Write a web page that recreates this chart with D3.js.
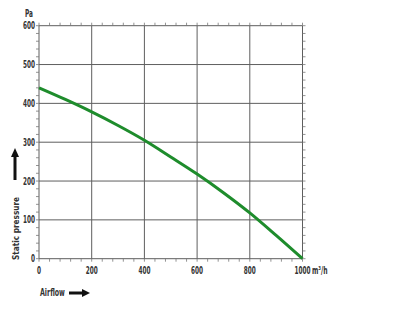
<!DOCTYPE html>
<html>
<head>
<meta charset="utf-8">
<script src="https://cdn.jsdelivr.net/npm/d3@7"></script>
<style>
  body { margin: 0; background: #fff; }
  text { font-family: "DejaVu Sans Condensed", "Liberation Sans", sans-serif; fill: #333; font-weight: bold; }
</style>
</head>
<body>
<svg id="chart"></svg>
<script>
// airflow (m3/h) vs static pressure (Pa)
var airflow = [0, 100, 200, 300, 400, 500, 600, 700, 800, 900, 1000]
var pressure = [440, 410, 378, 343, 305, 262, 218, 170, 118, 60, 0]
var xTicks = [0, 200, 400, 600, 800, 1000]
var yTicks = [0, 100, 200, 300, 400, 500, 600]

var width = 400
var height = 318
var narrow = 0.64 // the print uses a very condensed face

var svg = d3.select('#chart').attr('width', width).attr('height', height)

var x = d3.scaleLinear().domain([0, 1000]).range([39, 302.5])
var y = d3.scaleLinear().domain([0, 600]).range([258.7, 25.7])

var grid = svg.append('g').attr('stroke', '#5e5e5e').attr('stroke-width', 1)

grid.selectAll('.gx')
  .data(xTicks)
  .join('line')
  .attr('class', 'gx')
  .attr('x1', (d) => x(d)).attr('x2', (d) => x(d))
  .attr('y1', y(0)).attr('y2', y(600))

grid.selectAll('.gy')
  .data(yTicks)
  .join('line')
  .attr('class', 'gy')
  .attr('y1', (d) => y(d)).attr('y2', (d) => y(d))
  .attr('x1', x(0)).attr('x2', x(1000))

// minor ticks on the frame, pointing outward
var minorX = d3.range(0, 1001, 40)
var minorY = d3.range(0, 601, 20)
var ticks = svg.append('g').attr('stroke', '#777').attr('stroke-width', 0.8)

ticks.selectAll('.tt').data(minorX).join('line').attr('class', 'tt')
  .attr('x1', (d) => x(d)).attr('x2', (d) => x(d))
  .attr('y1', y(600)).attr('y2', y(600) - 3)
ticks.selectAll('.tb').data(minorX).join('line').attr('class', 'tb')
  .attr('x1', (d) => x(d)).attr('x2', (d) => x(d))
  .attr('y1', y(0)).attr('y2', y(0) + 3)
ticks.selectAll('.tl').data(minorY).join('line').attr('class', 'tl')
  .attr('y1', (d) => y(d)).attr('y2', (d) => y(d))
  .attr('x1', x(0)).attr('x2', x(0) - 3)
ticks.selectAll('.tr').data(minorY).join('line').attr('class', 'tr')
  .attr('y1', (d) => y(d)).attr('y2', (d) => y(d))
  .attr('x1', x(1000)).attr('x2', x(1000) + 3)

// tick labels
svg.append('g')
  .attr('font-size', 10)
  .attr('text-anchor', 'end')
  .selectAll('text')
  .data(yTicks)
  .join('text')
  .attr('transform', (d) => `translate(${x(0) - 4},${y(d) + 3.5}) scale(${narrow},1)`)
  .text((d) => d)

svg.append('g')
  .attr('font-size', 10)
  .attr('text-anchor', 'middle')
  .selectAll('text')
  .data(xTicks)
  .join('text')
  .attr('transform', (d) => `translate(${x(d)},${y(0) + 15}) scale(${narrow},1)`)
  .text((d) => d)

svg.append('text')
  .attr('font-size', 10)
  .attr('transform', `translate(${x(1000) + 9.5},${y(0) + 15}) scale(0.68,1)`)
  .text('m³/h')

svg.append('text')
  .attr('font-size', 10)
  .attr('transform', `translate(25,17) scale(${narrow},1)`)
  .text('Pa')

// curve
var line = d3.line()
  .x((d, i) => x(airflow[i]))
  .y((d) => y(d))
  .curve(d3.curveMonotoneX)

svg.append('path')
  .datum(pressure)
  .attr('fill', 'none')
  .attr('stroke', '#1e8c2c')
  .attr('stroke-width', 3)
  .attr('d', line)

// axis titles with arrows
svg.append('text')
  .attr('font-size', 9.5)
  .attr('transform', 'translate(18.5,260) rotate(-90) scale(0.86,1)')
  .text('Static pressure')

svg.append('line')
  .attr('x1', 15).attr('x2', 15)
  .attr('y1', 180).attr('y2', 156)
  .attr('stroke', '#111').attr('stroke-width', 3)
svg.append('path')
  .attr('d', 'M11,157 L19,157 L15,148 Z')
  .attr('fill', '#111')

svg.append('text')
  .attr('font-size', 10)
  .attr('transform', 'translate(40,296) scale(0.7,1)')
  .text('Airflow')

svg.append('line')
  .attr('x1', 69).attr('x2', 83)
  .attr('y1', 293).attr('y2', 293)
  .attr('stroke', '#111').attr('stroke-width', 3)
svg.append('path')
  .attr('d', 'M82,289 L82,297 L90,293 Z')
  .attr('fill', '#111')
</script>
</body>
</html>
